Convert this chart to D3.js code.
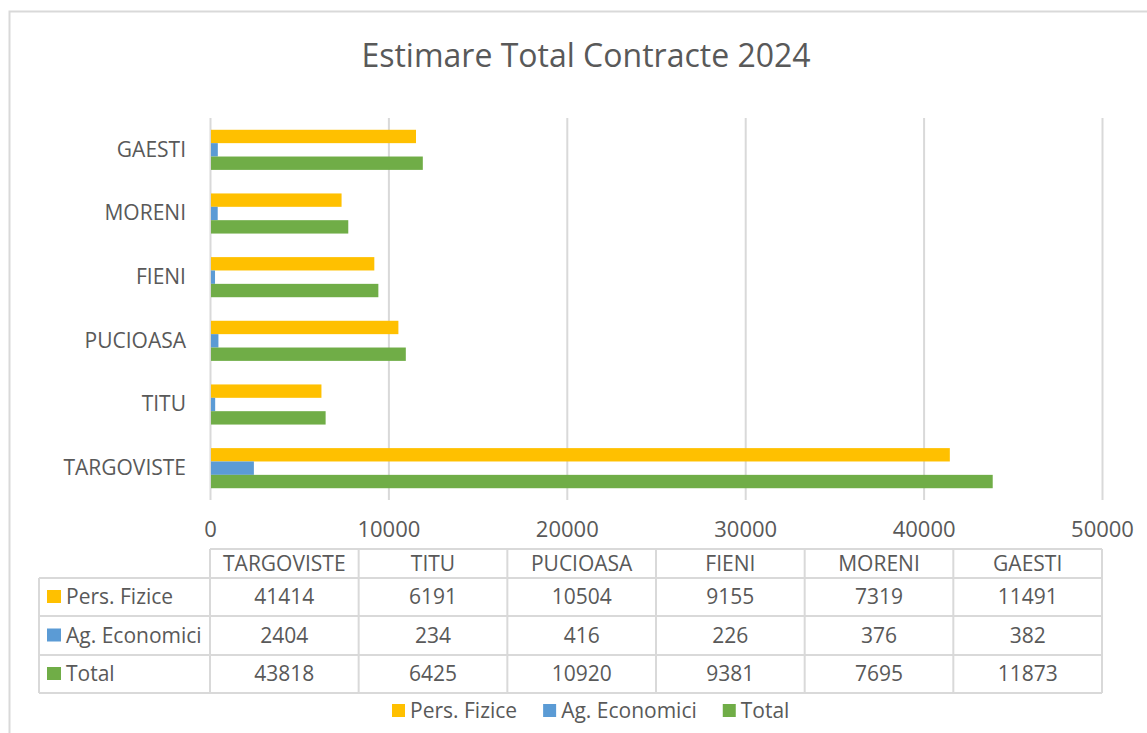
<!DOCTYPE html>
<html>
<head>
<meta charset="utf-8">
<script src="https://cdn.jsdelivr.net/npm/d3@7"></script>
<style>
  body { margin: 0; background: #fff; }
  text { font-family: "Open Sans", sans-serif; fill: #595959; }
</style>
</head>
<body>
<svg id="chart"></svg>
<script>
// data (table under the chart)
let categories = ["TARGOVISTE", "TITU", "PUCIOASA", "FIENI", "MORENI", "GAESTI"];
let persFizice = [41414, 6191, 10504, 9155, 7319, 11491];
let agEconomici = [2404, 234, 416, 226, 376, 382];
let total = [43818, 6425, 10920, 9381, 7695, 11873];
let seriesNames = ["Pers. Fizice", "Ag. Economici", "Total"];
let seriesColors = ["#FFC000", "#5B9BD5", "#70AD47"];
let xTicks = [0, 10000, 20000, 30000, 40000, 50000];

let seriesValues = [persFizice, agEconomici, total];

let w = 1147;
let h = 733;

// plot area
let plotLeft = 210;
let plotRight = 1102;
let plotTop = 118;
let plotBottom = 500;

let labelSize = "21px";
let numberSize = "21px";

let svg = d3.select("#chart")
    .attr("width", w)
    .attr("height", h);

// outer chart border (runs off the right/bottom of the picture)
svg.append("rect")
    .attr("x", 9.5).attr("y", 11.5)
    .attr("width", 1200).attr("height", 800)
    .attr("fill", "none")
    .attr("stroke", "#d9d9d9")
    .attr("stroke-width", 2);

svg.append("text")
    .text("Estimare Total Contracte 2024")
    .attr("x", 586)
    .attr("y", 67)
    .attr("text-anchor", "middle")
    .style("font-size", "32px");

let xscale = d3.scaleLinear()
    .domain([0, 50000])
    .range([plotLeft, plotRight]);

// GAESTI on top, TARGOVISTE at the bottom
let yscale = d3.scaleBand()
    .domain(categories.slice().reverse())
    .range([plotTop, plotBottom])
    .paddingInner(0.37)
    .paddingOuter(0.185);

let inner = d3.scaleBand()
    .domain(seriesNames)
    .range([0, yscale.bandwidth()]);

// vertical gridlines
let grid = d3.axisBottom(xscale).tickValues(xTicks).tickSize(plotBottom - plotTop).tickFormat("");
let gridg = svg.append("g")
    .attr("transform", `translate(0,${plotTop})`)
    .call(grid);
gridg.select(".domain").remove();
gridg.selectAll("line").attr("stroke", "#d9d9d9").attr("stroke-width", 2);

// bars
let rows = categories.map((c, i) => ({cat: c, vals: seriesNames.map((s, j) => ({name: s, v: seriesValues[j][i], color: seriesColors[j]}))}));

let groups = svg.append("g").selectAll("g")
    .data(rows)
    .enter().append("g")
    .attr("transform", d => `translate(0,${yscale(d.cat)})`);

groups.selectAll("rect")
    .data(d => d.vals)
    .enter().append("rect")
    .attr("x", xscale(0) + 1)
    .attr("y", d => inner(d.name))
    .attr("width", d => xscale(d.v) - xscale(0))
    .attr("height", inner.bandwidth())
    .style("fill", d => d.color);

// category labels
let yaxis = d3.axisLeft(yscale).tickSize(0).tickPadding(24);
let yaxisg = svg.append("g")
    .attr("transform", `translate(${plotLeft},0)`)
    .call(yaxis);
yaxisg.select(".domain").remove();
yaxisg.selectAll("text").style("font-size", labelSize).style("font-family", "Open Sans").attr("fill", "#595959");

// x tick labels
let xaxis = d3.axisBottom(xscale).tickValues(xTicks).tickSize(0).tickPadding(0).tickFormat(d3.format("d"));
let xaxisg = svg.append("g")
    .attr("transform", `translate(0,521)`)
    .call(xaxis);
xaxisg.select(".domain").remove();
xaxisg.selectAll("text").style("font-size", "22px").style("font-family", "Open Sans").attr("fill", "#595959");

// data table
let colscale = d3.scaleBand()
    .domain(categories)
    .range([plotLeft, plotRight]);

let rowEdges = [549, 578, 616, 655, 693];
let labelLeft = 39;
let lineColor = "#d9d9d9";
let table = svg.append("g");

// horizontal lines
rowEdges.forEach((y, i) => {
    table.append("line")
        .attr("x1", i == 0 ? plotLeft : labelLeft).attr("x2", plotRight)
        .attr("y1", y).attr("y2", y)
        .attr("stroke", lineColor).attr("stroke-width", 2);
});
// vertical lines
categories.forEach(c => {
    table.append("line")
        .attr("x1", colscale(c)).attr("x2", colscale(c))
        .attr("y1", rowEdges[0]).attr("y2", rowEdges[4])
        .attr("stroke", lineColor).attr("stroke-width", 2);
});
table.append("line")
    .attr("x1", plotRight).attr("x2", plotRight)
    .attr("y1", rowEdges[0]).attr("y2", rowEdges[4])
    .attr("stroke", lineColor).attr("stroke-width", 2);
table.append("line")
    .attr("x1", labelLeft).attr("x2", labelLeft)
    .attr("y1", rowEdges[1]).attr("y2", rowEdges[4])
    .attr("stroke", lineColor).attr("stroke-width", 2);

// header
table.selectAll(".hdr")
    .data(categories)
    .enter().append("text")
    .attr("class", "hdr")
    .text(d => d)
    .attr("x", d => colscale(d) + colscale.bandwidth() / 2)
    .attr("y", (rowEdges[0] + rowEdges[1]) / 2)
    .attr("dy", "0.35em")
    .attr("text-anchor", "middle")
    .style("font-size", labelSize);

// rows
seriesNames.forEach((s, j) => {
    let cy = (rowEdges[j + 1] + rowEdges[j + 2]) / 2;
    table.append("rect")
        .attr("x", 47).attr("y", cy - 7)
        .attr("width", 14).attr("height", 13)
        .style("fill", seriesColors[j]);
    table.append("text")
        .text(s)
        .attr("x", 66).attr("y", cy)
        .attr("dy", "0.35em")
        .style("font-size", labelSize);
    table.selectAll(".v" + j)
        .data(categories)
        .enter().append("text")
        .text((d, i) => seriesValues[j][i])
        .attr("x", d => colscale(d) + colscale.bandwidth() / 2)
        .attr("y", cy)
        .attr("dy", "0.35em")
        .attr("text-anchor", "middle")
        .style("font-size", numberSize);
});

// legend
let legend = svg.append("g");
let lx = 392;
let ly = 711;
seriesNames.forEach((s, j) => {
    legend.append("rect")
        .attr("x", lx).attr("y", ly - 7)
        .attr("width", 13).attr("height", 13)
        .style("fill", seriesColors[j]);
    let t = legend.append("text")
        .text(s)
        .attr("x", lx + 18).attr("y", ly)
        .attr("dy", "0.35em")
        .style("font-size", labelSize);
    lx += 18 + t.node().getComputedTextLength() + 26;
});
</script>
</body>
</html>
